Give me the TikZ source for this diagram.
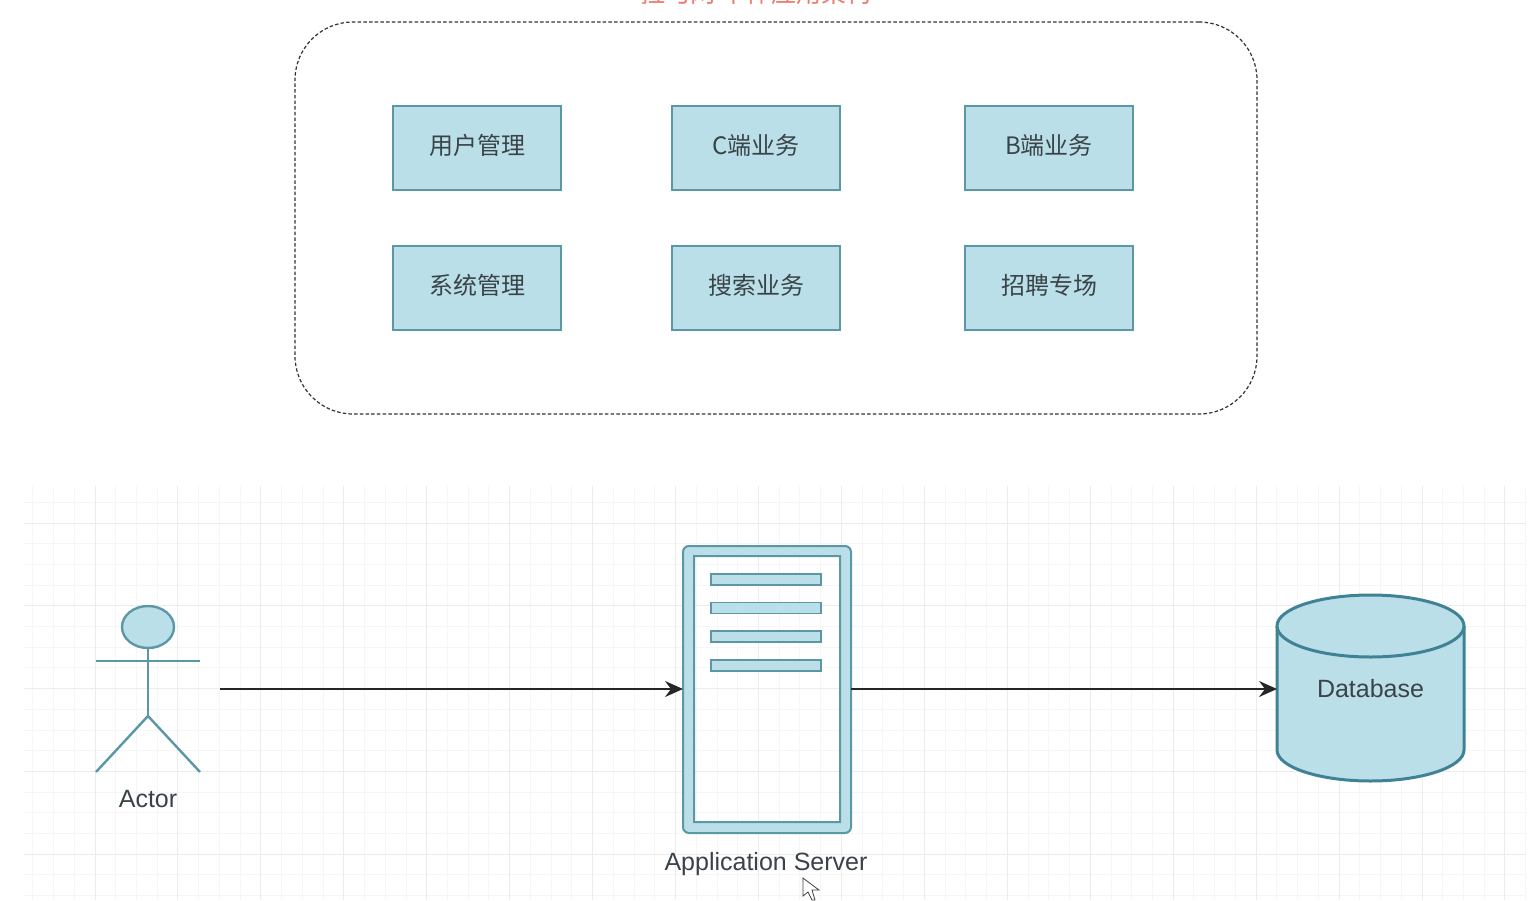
\documentclass[tikz,border=0pt]{standalone}
\usepackage{fontspec}
\setmainfont{Liberation Sans}
\newfontfamily\cjk{Noto Sans CJK SC}
\usetikzlibrary{arrows.meta, positioning, shapes.geometric}

\definecolor{boxfill}{HTML}{BBDFE8}
\definecolor{boxline}{HTML}{5C97A6}
\definecolor{dbline}{HTML}{3F8296}
\definecolor{labeltext}{HTML}{3A4448}
\definecolor{titlered}{HTML}{EE7A6C}
\definecolor{gridmajor}{HTML}{ECECEC}
\definecolor{gridminor}{HTML}{F6F6F6}

\begin{document}
\begin{tikzpicture}[
    x=1pt, y=-1pt,
    node distance=56pt and 111pt,
    every node/.style={font=\fontsize{25}{28}\selectfont, text=labeltext},
    module/.style={
        draw=boxline, fill=boxfill, line width=1.1pt, rectangle,
        inner sep=0pt, outer sep=0pt,
        minimum width=168pt, minimum height=84pt,
        text height=20pt, text depth=6.6pt,
        font=\fontsize{24}{28}\selectfont\cjk
    },
    container/.style={
        draw=black!80, line width=1.2pt, rounded corners=58pt,
        dash pattern=on 3.5pt off 2.2pt,
        inner sep=0pt, outer sep=0pt,
        minimum width=962pt, minimum height=392pt
    },
    figure/.style={draw=boxline, line width=2.4pt},
    bar/.style={
        draw=boxline, fill=boxfill, line width=1.5pt, rectangle,
        inner sep=0pt, outer sep=0pt,
        minimum width=110pt, minimum height=11pt
    },
    anchorbox/.style={rectangle, inner sep=0pt, outer sep=0pt},
    flow/.style={-{Stealth[length=18pt, width=16pt, inset=6pt]}, line width=2pt, draw=black!85},
]
\clip (0,0) rectangle (1532,900);
\fill[white] (0,0) rectangle (1532,900);

% ── title, cut by the top edge ──
\node[font=\fontsize{25}{28}\selectfont\cjk, text=titlered] (title) at (756,-7) {拉勾网 单体应用架构};

% ── modules ──
\node[container] (monolith) at (776,218) {};
\node[module] (users) at (477,148) {用户管理};
\node[module, right=of users] (cside) {C端业务};
\node[module, right=125pt of cside] (bside) {B端业务};
\node[module, below=of users] (system) {系统管理};
\node[module, below=of cside] (search) {搜索业务};
\node[module, below=of bside] (hiring) {招聘专场};

% ── grid ──
\foreach \i in {-3,...,71} {
    \draw[gridminor, line width=1pt] ({95+\i*20.735},486) -- ({95+\i*20.735},900);
}
\foreach \i in {-1,...,18} {
    \draw[gridminor, line width=1pt] (24,{523+\i*20.7}) -- (1526,{523+\i*20.7});
}
\foreach \i in {0,...,17} {
    \draw[gridmajor, line width=1pt] ({95+\i*82.94},486) -- ({95+\i*82.94},900);
}
\foreach \i in {0,...,4} {
    \draw[gridmajor, line width=1pt] (24,{523+\i*82.75}) -- (1526,{523+\i*82.75});
}

% ── actor ──
\node[figure, fill=boxfill, ellipse, inner sep=0pt, minimum width=52pt, minimum height=42pt] (head) at (148,627) {};
\coordinate (crotch) at (148,716);
\coordinate (actorout) at (220,689);
\draw[figure] (head.south) -- (crotch);
\draw[figure] (96,661) -- (200,661);
\draw[figure] (96,772) -- (crotch) -- (200,772);
\node (actor) at (148,799) {Actor};

% ── server ──
\draw[boxline, fill=boxfill, line width=2pt, even odd rule, rounded corners=6pt]
    (683,546) rectangle (851,833) [sharp corners] (694,556) rectangle (840,822);
\node[anchorbox, minimum width=168pt, minimum height=287pt] (server) at (767,689) {};
\node[bar] (bara) at (766,579.5) {};
\node[bar] (barb) at (766,608) {};
\node[bar] (barc) at (766,636.5) {};
\node[bar] (bard) at (766,665.5) {};
\node (serverlabel) at (766,864) {Application Server};

% ── database ──
\draw[dbline, fill=boxfill, line width=3pt] (1277,626) -- (1277,750)
    .. controls (1277,767) and (1319,781) .. (1370.5,781)
    .. controls (1422,781) and (1464,767) .. (1464,750) -- (1464,626);
\draw[dbline, fill=boxfill, line width=3pt] (1370.5,626) ellipse [x radius=93.5pt, y radius=31pt];
\node[anchorbox, minimum width=187pt, minimum height=187pt] (database) at (1370.5,689) {Database};

% ── connectors ──
\draw[flow] (actorout) -- (server.west);
\draw[flow] (server.east) -- (database.west);

% ── pointer ──
\draw[black!75, fill=white, line width=0.8pt] (803,878) -- (803,896) -- (808,892) -- (812,900) -- (815,900) -- (812,890) -- (819,890) -- cycle;

\end{tikzpicture}
\end{document}
